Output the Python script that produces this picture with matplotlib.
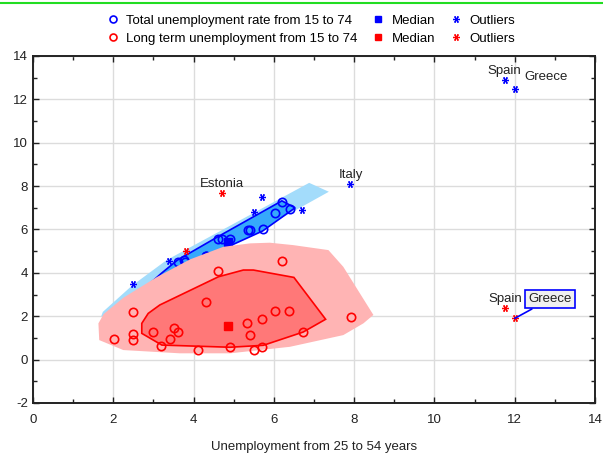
import matplotlib
matplotlib.use('Agg')
import matplotlib.pyplot as plt
from matplotlib.lines import Line2D
from matplotlib.patches import Polygon

plt.rcParams['font.family'] = ['Liberation Sans', 'DejaVu Sans']
plt.rcParams['axes.unicode_minus'] = False

# Total unemployment rate (15-74) vs unemployment 25-54
total_x = [6.20, 6.41, 6.03, 5.72, 5.36, 5.41, 4.60, 4.72, 4.91, 4.30, 3.75, 3.62, 3.79, 4.31]
total_y = [7.29, 6.95, 6.77, 6.03, 5.97, 5.97, 5.57, 5.57, 5.57, 4.79, 4.59, 4.48, 4.48, 4.77]
total_median = (4.87, 5.43)
total_out_x = [11.75, 12.0, 7.9, 5.7, 5.5, 6.7, 3.4, 2.5]
total_out_y = [12.9, 12.5, 8.1, 7.5, 6.8, 6.9, 4.55, 3.5]

# Long term unemployment (15-74)
long_x = [2.50, 2.01, 2.50, 2.50, 3.00, 3.20, 3.41, 3.52, 3.62, 4.11, 4.32, 4.60, 4.92,
          5.33, 5.41, 5.50, 5.71, 5.71, 6.03, 6.38, 6.20, 6.73, 7.91]
long_y = [2.19, 0.95, 1.17, 0.90, 1.29, 0.63, 0.95, 1.47, 1.29, 0.44, 2.65, 4.08, 0.57,
          1.67, 1.15, 0.44, 0.57, 1.87, 2.25, 2.25, 4.53, 1.27, 1.95]
long_median = (4.87, 1.53)
long_out_x = [11.75, 12.0, 4.7, 3.8]
long_out_y = [2.4, 1.9, 7.7, 5.0]

# Envelopes around the points
blue_outer_x = [1.70, 1.74, 2.46, 3.33, 6.88, 7.37, 4.90, 3.0, 2.0]
blue_outer_y = [2.00, 2.20, 3.40, 4.59, 8.15, 7.74, 5.20, 3.3, 1.9]
blue_inner_x = [6.20, 6.53, 5.72, 4.83, 3.30, 2.6, 3.20, 3.60, 4.60]
blue_inner_y = [7.32, 7.00, 5.93, 5.18, 3.90, 3.0, 3.98, 4.59, 5.66]
red_outer_x = [1.63, 1.76, 2.25, 3.08, 3.91, 4.74, 5.41, 5.90, 6.48, 7.36, 7.73, 8.48,
               8.23, 7.73, 6.40, 4.91, 3.66, 2.25, 1.65]
red_outer_y = [1.67, 2.10, 2.85, 3.80, 4.62, 5.20, 5.36, 5.39, 5.28, 5.05, 4.28, 2.06,
               1.67, 1.13, 0.59, 0.29, 0.29, 0.44, 0.90]
red_inner_x = [2.71, 2.71, 3.21, 4.91, 5.74, 6.73, 7.29, 6.50, 5.49, 5.24, 4.62, 3.16, 2.87]
red_inner_y = [1.67, 1.21, 0.67, 0.57, 0.66, 1.27, 1.86, 3.79, 4.13, 4.13, 3.82, 2.52, 2.13]

fig = plt.figure(figsize=(6.03, 4.57), dpi=100)
ax = fig.add_axes([0.0547, 0.1182, 0.932, 0.7593])

blue = '#0000ff'
red = '#ff0000'

ax.add_patch(Polygon(list(zip(blue_outer_x, blue_outer_y)), closed=True,
                     facecolor='#a3dcfb', edgecolor='none', zorder=2))
ax.add_patch(Polygon(list(zip(blue_inner_x, blue_inner_y)), closed=True,
                     facecolor='#36a9fb', edgecolor=blue, lw=1.2, zorder=3))
ax.plot(total_x, total_y, 'o', mfc='none', mec=blue, ms=6, mew=1.2, zorder=4)
ax.plot(*total_median, 's', color=blue, ms=5.5, zorder=4)

ax.add_patch(Polygon(list(zip(red_outer_x, red_outer_y)), closed=True,
                     facecolor='#ffb4b4', edgecolor='none', zorder=5))
ax.add_patch(Polygon(list(zip(red_inner_x, red_inner_y)), closed=True,
                     facecolor='#ff7878', edgecolor=red, lw=1.2, zorder=6))
ax.plot(long_x, long_y, 'o', mfc='none', mec=red, ms=6, mew=1.2, zorder=7)
ax.plot(*long_median, 's', color=red, ms=5.5, zorder=7)

star = (6, 2, 90)
ax.plot(total_out_x, total_out_y, ls='none', marker=star, color=blue, ms=5, mew=0.9, zorder=8)
ax.plot(long_out_x, long_out_y, ls='none', marker=star, color=red, ms=5, mew=0.9, zorder=8)

# country labels
lab = dict(fontsize=9.5, color='#222222', zorder=9)
ax.text(11.75, 13.3, 'Spain', ha='center', va='center', **lab)
ax.text(12.23, 13.03, 'Greece', ha='left', va='center', **lab)
ax.text(7.92, 8.5, 'Italy', ha='center', va='center', **lab)
ax.text(4.70, 8.09, 'Estonia', ha='center', va='center', **lab)
ax.text(11.76, 2.79, 'Spain', ha='center', va='center', **lab)
ax.annotate('Greece', xy=(12.0, 1.9), xytext=(12.88, 2.79), ha='center', va='center',
            fontsize=9.5, color='#222222', zorder=9,
            bbox=dict(boxstyle='square,pad=0.25', fc='#f0f0f0', ec=blue, lw=1.2),
            arrowprops=dict(arrowstyle='-', color=blue, lw=1.2, shrinkA=0, shrinkB=0))

ax.set_xlim(0, 14)
ax.set_ylim(-2, 14)
ax.set_xticks(range(0, 15, 2))
ax.set_yticks(range(-2, 15, 2))
ax.set_xticks(range(0, 15), minor=True)
ax.set_yticks(range(-2, 15), minor=True)
ax.tick_params(which='both', direction='in', top=True, right=True, labelsize=9.5,
               colors='#222222')
ax.tick_params(which='major', length=4, width=1)
ax.tick_params(which='minor', length=3, width=1)
ax.tick_params(axis='x', pad=8)
ax.grid(which='major', color='#dcdcdc', lw=1)
ax.set_axisbelow(True)
for s in ax.spines.values():
    s.set_linewidth(1.4)
    s.set_color('#222222')
ax.set_xlabel('Unemployment from 25 to 54 years', fontsize=9.5, labelpad=11, color='#222222')

handles = [
    Line2D([], [], ls='none', marker='o', mfc='none', mec=blue, ms=5, mew=1.2),
    Line2D([], [], ls='none', marker='o', mfc='none', mec=red, ms=5, mew=1.2),
    Line2D([], [], ls='none', marker='s', color=blue, ms=5),
    Line2D([], [], ls='none', marker='s', color=red, ms=5),
    Line2D([], [], ls='none', marker=star, color=blue, ms=5, mew=0.9),
    Line2D([], [], ls='none', marker=star, color=red, ms=5, mew=0.9),
]
labels = ['Total unemployment rate from 15 to 74', 'Long term unemployment from 15 to 74',
          'Median', 'Median', 'Outliers', 'Outliers']
fig.legend(handles, labels, ncol=3, loc='center', bbox_to_anchor=(0.515, 0.935),
           frameon=False, fontsize=9.5, handlelength=1, handletextpad=0.5,
           columnspacing=1.1, labelspacing=0.45)

# green rule along the top edge
fig.add_artist(Line2D([0, 1], [1 - 2.5 / 457] * 2, color='#22dd22', lw=1.5,
                      transform=fig.transFigure))

fig.savefig('out.png', dpi=100)
